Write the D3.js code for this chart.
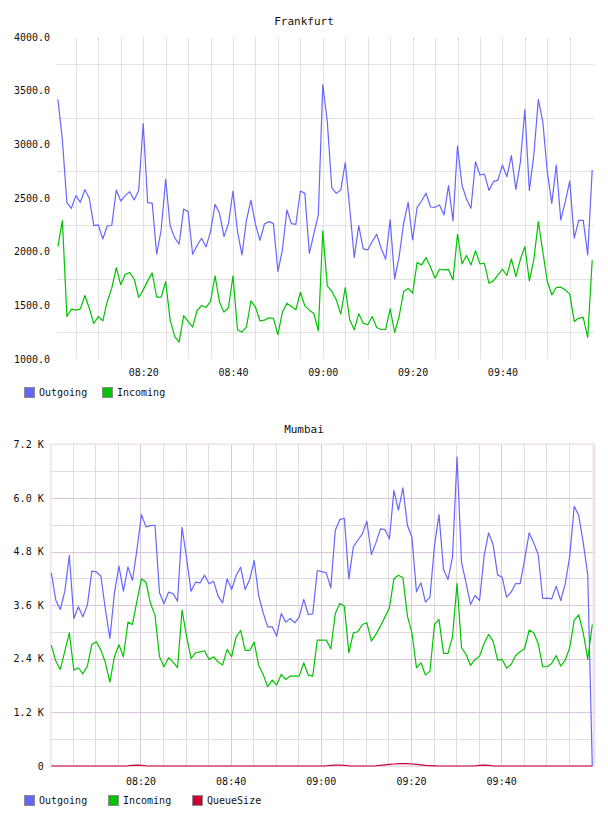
<!DOCTYPE html>
<html>
<head>
<meta charset="utf-8">
<script src="https://cdnjs.cloudflare.com/ajax/libs/d3/7.8.5/d3.min.js"></script>
<style>
    body { margin: 0; background: #ffffff; }
    text { font-family: "DejaVu Sans Mono", monospace; fill: #111111; }
</style>
</head>
<body>
<div id="chart"></div>
<script>
// ---- Data (one sample per minute) ----
var frankfurtStart = "08:01:00";
var frankfurtOutgoing = [3420, 3040, 2456, 2404, 2522, 2460, 2577, 2497, 2242, 2249, 2118, 2239, 2246, 2574, 2472, 2522, 2559, 2481, 2571, 3194,
    2456, 2453, 1976, 2202, 2673, 2242, 2131, 2069, 2397, 2373, 1976, 2057, 2125, 2044, 2187, 2441, 2357, 2140, 2264, 2565,
    2187, 1970, 2295, 2481, 2255, 2106, 2258, 2280, 2261, 1815, 2016, 2388, 2261, 2255, 2565, 2543, 1985, 2165, 2342, 3557,
    3210, 2596, 2543, 2574, 2831, 2404, 1945, 2242, 2026, 2016, 2094, 2162, 2032, 1929, 2298, 1746, 1954, 2264, 2460, 2109,
    2413, 2472, 2546, 2416, 2413, 2435, 2342, 2615, 2286, 2983, 2621, 2490, 2404, 2838, 2714, 2723, 2571, 2652, 2667, 2807,
    2698, 2894, 2580, 2831, 3324, 2571, 2900, 3417, 3210, 2745, 2450, 2807, 2295, 2466, 2658, 2125, 2292, 2292, 1970, 2760];
var frankfurtIncoming = [2047, 2289, 1396, 1464, 1455, 1467, 1591, 1473, 1331, 1396, 1356, 1536, 1660, 1852, 1691, 1790, 1805, 1743, 1573, 1644,
    1728, 1802, 1576, 1576, 1722, 1365, 1210, 1157, 1405, 1350, 1297, 1452, 1498, 1480, 1536, 1774, 1529, 1436, 1480, 1774,
    1272, 1250, 1300, 1542, 1483, 1356, 1362, 1384, 1378, 1226, 1436, 1520, 1489, 1458, 1622, 1495, 1455, 1424, 1263, 2193,
    1681, 1629, 1551, 1418, 1666, 1365, 1272, 1421, 1334, 1319, 1396, 1294, 1275, 1275, 1467, 1247, 1396, 1629, 1657, 1613,
    1898, 1877, 1945, 1855, 1753, 1836, 1830, 1833, 1737, 2162, 1886, 1964, 1877, 2010, 1886, 1892, 1706, 1728, 1784, 1836,
    1778, 1933, 1768, 1929, 2047, 1728, 1923, 2280, 2001, 1722, 1598, 1666, 1669, 1644, 1604, 1350, 1381, 1387, 1201, 1923];

var mumbaiStart = "08:00:13";
var mumbaiOutgoing = [4323, 3712, 3503, 3913, 4710, 3302, 3563, 3339, 3600, 4360, 4345, 4248, 3503, 2854, 3876, 4472, 3913, 4457, 4151, 4844,
    5627, 5351, 5381, 5388, 3876, 3630, 3890, 3861, 3689, 5344, 4658, 3913, 4114, 4099, 4271, 4077, 4136, 3801, 3652, 4189,
    3950, 4263, 4449, 3950, 4174, 4599, 3816, 3428, 3115, 3115, 2907, 3413, 3220, 3302, 3205, 3332, 3727, 3391, 3406, 4375,
    4350, 4323, 3987, 5277, 5515, 5545, 4189, 4904, 5053, 5195, 5478, 4733, 4994, 5307, 5292, 5083, 6164, 5724, 6223, 5381,
    5120, 3898, 4099, 3667, 3786, 4934, 5627, 4397, 4174, 4680, 6916, 4561, 4099, 3615, 3816, 3704, 4695, 5217, 4956, 4278,
    4226, 3779, 3890, 4084, 4084, 4621, 5217, 4994, 4733, 3749, 3756, 3741, 4025, 3704, 4077, 4695, 5813, 5605, 4994, 4285, 0];
var mumbaiIncoming = [2705, 2348, 2161, 2571, 2981, 2146, 2199, 2064, 2236, 2720, 2780, 2594, 2310, 1878, 2445, 2713, 2445, 3220, 3168, 3689,
    4189, 4114, 3637, 3376, 2445, 2221, 2422, 2325, 2199, 3488, 2907, 2407, 2534, 2556, 2579, 2385, 2445, 2325, 2258, 2609,
    2445, 2892, 3033, 2586, 2586, 2773, 2251, 2050, 1774, 1923, 1811, 2050, 1938, 2012, 2012, 2012, 2310, 2035, 2012, 2817,
    2817, 2817, 2623, 3413, 3637, 3577, 2534, 2981, 3004, 3168, 3205, 2795, 2944, 3130, 3332, 3540, 4189, 4271, 4211, 3354,
    2981, 2199, 2310, 2035, 2124, 3168, 3279, 2519, 2519, 2892, 4084, 2646, 2497, 2251, 2385, 2459, 2743, 2944, 2795, 2370,
    2385, 2191, 2273, 2474, 2556, 2631, 3041, 2981, 2743, 2221, 2221, 2296, 2474, 2236, 2370, 2646, 3264, 3384, 2981, 2385, 3168];
var mumbaiQueueSize = [0, 0, 0, 0, 0, 0, 0, 0, 0, 0, 0, 0, 0, 0, 0, 0, 0, 5, 15, 20,
    15, 5, 0, 0, 0, 0, 0, 0, 0, 0, 0, 0, 0, 0, 0, 0, 0, 0, 0, 0,
    0, 0, 0, 0, 0, 0, 0, 0, 0, 0, 0, 0, 0, 0, 0, 0, 0, 0, 0, 0,
    0, 5, 15, 20, 20, 15, 5, 0, 0, 0, 0, 0, 5, 15, 25, 35, 45, 52, 55, 52,
    45, 35, 25, 15, 10, 5, 0, 0, 0, 0, 0, 0, 0, 0, 5, 15, 20, 15, 5, 0,
    0, 0, 0, 0, 0, 0, 0, 0, 0, 0, 0, 0, 0, 0, 0, 0, 0, 0, 0, 0, 0];

var timeLabels = ["08:20", "08:40", "09:00", "09:20", "09:40"];
var frankfurtYTicks = [1000, 1500, 2000, 2500, 3000, 3500, 4000];
var frankfurtYGrid = [1250, 1750, 2250, 2750, 3250, 3750];
var mumbaiYTicks = [0, 1200, 2400, 3600, 4800, 6000, 7200];
var mumbaiYLabels = ["0", "1.2 K", "2.4 K", "3.6 K", "4.8 K", "6.0 K", "7.2 K"];
var mumbaiYGrid = [600, 1800, 3000, 4200, 5400, 6600];

var colorMap = {"Outgoing": "#6666ff", "Incoming": "#00c400", "QueueSize": "#cc0033"};
var parseTime = d3.timeParse("%H:%M:%S");

function minuteSeries(start, values) {
    var t0 = parseTime(start);
    return values.map(function (v, i) { return {t: d3.timeMinute.offset(t0, i), v: v}; });
}

/*
 * One panel of the traffic graph
 */
TrafficChart = function (_svg, _opts) {
    this.svg = _svg;
    this.opts = _opts;
    this.initVis();
};

TrafficChart.prototype.initVis = function () {
    var vis = this, o = vis.opts;

    vis.x = d3.scaleTime()
        .domain([parseTime(o.domainStart), parseTime(o.domainEnd)])
        .range([o.left, o.right]);

    vis.y = d3.scaleLinear()
        .domain(d3.extent(o.yTicks))
        .range([o.bottom, o.top]);

    vis.g = vis.svg.append("g");

    vis.g.append("text")
        .attr("x", 304)
        .attr("y", o.titleY)
        .attr("text-anchor", "middle")
        .style("font-size", "11px")
        .text(o.title);

    // vertical grid, every 5 minutes
    var gridTimes = vis.x.ticks(d3.timeMinute.every(5)).filter(function (t) {
        return vis.x(t) > o.left + 4 && vis.x(t) < o.right - 4;
    });
    vis.g.selectAll(".vgrid")
        .data(gridTimes)
        .enter().append("line")
        .attr("x1", function (d) { return Math.round(vis.x(d)) + 0.5; })
        .attr("x2", function (d) { return Math.round(vis.x(d)) + 0.5; })
        .attr("y1", o.top)
        .attr("y2", o.bottom)
        .attr("stroke", function (d) {
            return (o.majorColor && d.getMinutes() % 20 === 0) ? o.majorColor : o.minorColor;
        })
        .attr("stroke-width", 1);

    // horizontal grid
    vis.g.selectAll(".hgrid")
        .data(o.yGrid)
        .enter().append("line")
        .attr("x1", o.left)
        .attr("x2", o.right)
        .attr("y1", function (d) { return Math.round(vis.y(d)) + 0.5; })
        .attr("y2", function (d) { return Math.round(vis.y(d)) + 0.5; })
        .attr("stroke", o.minorColor);

    if (o.majorColor) {
        vis.g.selectAll(".hmajor")
            .data(o.yTicks)
            .enter().append("line")
            .attr("x1", o.left)
            .attr("x2", o.right)
            .attr("y1", function (d) { return Math.round(vis.y(d)) + 0.5; })
            .attr("y2", function (d) { return Math.round(vis.y(d)) + 0.5; })
            .attr("stroke", o.majorColor);

        // frame
        vis.g.append("rect")
            .attr("x", o.left)
            .attr("y", o.top)
            .attr("width", o.right - o.left)
            .attr("height", o.bottom - o.top)
            .attr("fill", "none")
            .attr("stroke", "#efdfef")
            .attr("stroke-width", 1.5);
        vis.g.append("line")
            .attr("x1", o.right).attr("x2", o.right)
            .attr("y1", o.top).attr("y2", o.bottom)
            .attr("stroke", "#f0e2f0")
            .attr("stroke-width", 3);
    }

    // axes (labels only)
    var xAxis = vis.g.append("g")
        .attr("transform", "translate(0," + o.bottom + ")")
        .call(d3.axisBottom(vis.x)
            .tickValues(timeLabels.map(function (s) { return parseTime(s + ":00"); }))
            .tickFormat(d3.timeFormat("%H:%M"))
            .tickSize(0)
            .tickPadding(o.xPadding));
    var yAxis = vis.g.append("g")
        .attr("transform", "translate(" + o.left + ",0)")
        .call(d3.axisLeft(vis.y)
            .tickValues(o.yTicks)
            .tickFormat(o.yFormat)
            .tickSize(0)
            .tickPadding(o.yPadding));
    [xAxis, yAxis].forEach(function (ax) {
        ax.select(".domain").remove();
        ax.selectAll("text")
            .attr("font-family", "DejaVu Sans Mono, monospace")
            .style("font-size", "10px")
            .attr("fill", "#111");
    });

    // series lines
    var line = d3.line()
        .x(function (d) { return vis.x(d.t); })
        .y(function (d) { return vis.y(d.v); });

    o.series.forEach(function (s) {
        vis.g.append("path")
            .datum(minuteSeries(o.dataStart, s.values))
            .attr("fill", "none")
            .attr("stroke", colorMap[s.name])
            .attr("stroke-width", 1.2)
            .attr("stroke-linejoin", "round")
            .attr("d", line);
    });

    // legend
    var legend = vis.g.selectAll(".legend")
        .data(o.series)
        .enter().append("g")
        .attr("transform", function (d, i) { return "translate(" + o.legendX[i] + "," + o.legendY + ")"; });
    legend.append("rect")
        .attr("x", 0.5).attr("y", -4.5)
        .attr("width", 10).attr("height", 10)
        .attr("fill", function (d) { return colorMap[d.name]; })
        .attr("stroke", "#8c8c8c");
    legend.append("text")
        .attr("x", 15)
        .attr("y", 0)
        .attr("dy", "0.35em")
        .style("font-size", "10px")
        .text(function (d) { return d.name; });
};

var svg = d3.select("#chart")
    .append("svg")
    .attr("width", 608)
    .attr("height", 816);

new TrafficChart(svg, {
    title: "Frankfurt", titleY: 24.5,
    left: 57, right: 594, top: 37, bottom: 359,
    domainStart: "08:00:48", domainEnd: "10:00:24", dataStart: frankfurtStart,
    yTicks: frankfurtYTicks, yGrid: frankfurtYGrid, yFormat: d3.format(".1f"),
    minorColor: "#e2e2e2", majorColor: null,
    xPadding: 10, yPadding: 7,
    legendX: [24, 102], legendY: 392,
    series: [{name: "Outgoing", values: frankfurtOutgoing}, {name: "Incoming", values: frankfurtIncoming}]
});

new TrafficChart(svg, {
    title: "Mumbai", titleY: 433,
    left: 50.7, right: 594, top: 444.3, bottom: 766,
    domainStart: "08:00:05", domainEnd: "10:00:36", dataStart: mumbaiStart,
    yTicks: mumbaiYTicks, yGrid: mumbaiYGrid,
    yFormat: function (d, i) { return mumbaiYLabels[i]; },
    minorColor: "#e2dce2", majorColor: "#ddc6dd",
    xPadding: 12, yPadding: 7,
    legendX: [24, 108, 192], legendY: 800,
    series: [{name: "Outgoing", values: mumbaiOutgoing}, {name: "Incoming", values: mumbaiIncoming},
        {name: "QueueSize", values: mumbaiQueueSize}]
});
</script>
</body>
</html>
